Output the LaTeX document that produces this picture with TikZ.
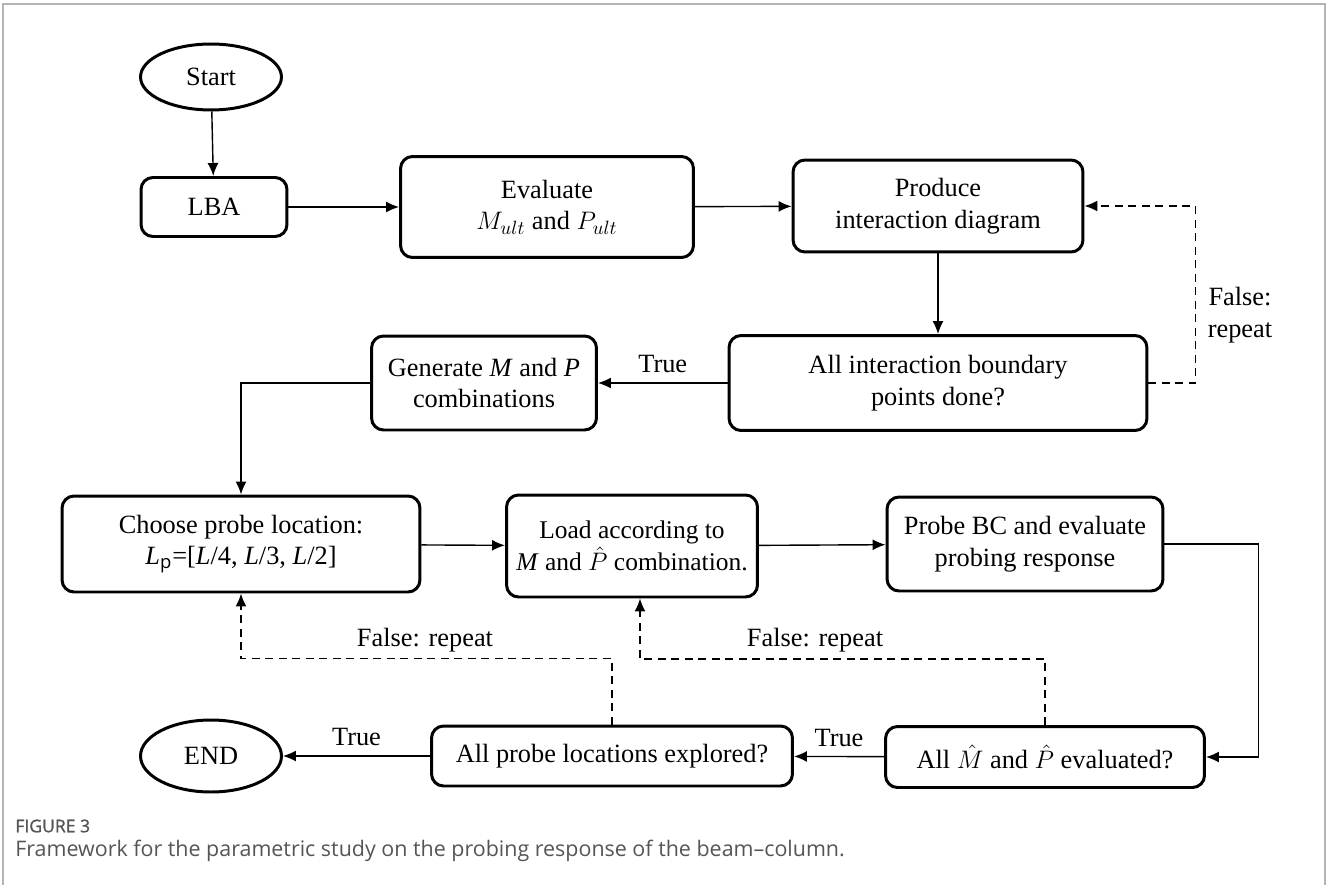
\documentclass[tikz,border=0pt]{standalone}
\usepackage{fontspec}
\setmainfont{Liberation Serif}
\newfontfamily\capfont{Open Sans}
\newfontfamily\capbold[FakeBold=1.2]{Open Sans}
\usetikzlibrary{positioning,arrows.meta,shapes.geometric}
\definecolor{capgray}{HTML}{555555}
\definecolor{framegray}{HTML}{B4B4B4}

\begin{document}
\begin{tikzpicture}[
    x=0.02cm, y=-0.02cm,
    box/.style={draw, line width=1.7pt, rounded corners=2.4mm, align=center, inner sep=2pt, font=\fontsize{15}{18}\selectfont},
    term/.style={draw, ellipse, line width=1.7pt, inner sep=0pt, minimum width=2.82cm, font=\fontsize{15}{18}\selectfont},
    arr/.style={-{Latex[length=2.6mm,width=2.2mm]}, line width=0.8pt},
    back/.style={arr, dash pattern=on 1.6mm off 1.1mm},
    lbl/.style={align=center, font=\fontsize{15}{18}\selectfont}
]
    \useasboundingbox (0,0) rectangle (1328,885);
    \draw[framegray, line width=0.6pt] (3,885) -- (3,4) -- (1325,4) -- (1325,885);

    % top row
    \node[term, minimum height=1.32cm] (start) at (211,77) {Start};
    \node[box, minimum width=2.92cm, minimum height=1.18cm] (lba) at (214,207) {LBA};
    \node[box, minimum width=5.86cm, minimum height=2.02cm] (eval) at (547,207) {Evaluate\\$M_{ult}$ and $P_{ult}$};
    \node[box, minimum width=5.8cm, minimum height=1.84cm] (prod) at (938,206) {Produce\\interaction diagram};

    % second row
    \node[box, minimum width=8.36cm, minimum height=1.9cm] (bound) at (938,383) {All interaction boundary\\points done?};
    \node[box, minimum width=4.5cm, minimum height=1.88cm] (gen) at (484,383) {Generate \textit{M} and \textit{P}\\combinations};

    % third row
    \node[box, minimum width=7.16cm, minimum height=1.92cm] (choose) at (241,544) {Choose probe location:\\\textit{L}\textsubscript{\capfont p}=[\textit{L}/4, \textit{L}/3, \textit{L}/2]};
    \node[box, minimum width=5.02cm, minimum height=2.04cm, font=\fontsize{14.5}{18}\selectfont] (load) at (632,546) {Load according to\\\textit{M} and $\hat{P}$ combination.};
    \node[box, minimum width=5.52cm, minimum height=1.88cm] (probe) at (1025,544) {Probe BC and evaluate\\probing response};

    % bottom row
    \node[box, minimum width=6.38cm, minimum height=1.22cm] (allmp) at (1045,757) {All $\hat{M}$ and $\hat{P}$ evaluated?};
    \node[box, minimum width=7.22cm, minimum height=1.2cm] (allprobe) at (612,756) {All probe locations explored?};
    \node[term, minimum height=1.44cm] (endn) at (211,756) {END};

    \draw[arr] (start) -- (lba);
    \draw[arr] (lba) -- (eval);
    \draw[arr] (eval) -- (prod);
    \draw[arr] (prod) -- (bound);
    \draw[back] (bound.east) -- ++(47,0) |- (prod.east);
    \node[lbl] (falsea) at (1240,315) {False:\\repeat};
    \draw[arr] (bound) -- node[lbl, above=2pt] (truea) {True} (gen);
    \draw[arr] (gen.west) -| (choose.north);
    \draw[arr] (choose) -- (load);
    \draw[arr] (load) -- (probe);
    \draw[arr] (probe.east) -- ++(94,0) |- (allmp.east);
    \draw[arr] (allmp) -- node[lbl, above=2pt] (trueb) {True} (allprobe);
    \draw[arr] (allprobe) -- node[lbl, above=2pt] (truec) {True} (endn);
    \draw[back] (allmp.north) -- ++(0,-66) -| ([xshift=0.16cm]load.south);
    \node[lbl] (falseb) at (815,640) {False: repeat};
    \draw[back] (allprobe.north) -- ++(0,-66) -| (choose.south);
    \node[lbl] (falsec) at (425,640) {False: repeat};

    % caption
    \node[anchor=west, inner sep=0pt, text=capgray, font=\capbold\fontsize{10}{12}\selectfont] (fignum) at (15,826) {FIGURE 3};
    \node[anchor=west, inner sep=0pt, text=capgray, font=\capfont\fontsize{12.2}{14}\selectfont] (caption) at (15,851) {Framework for the parametric study on the probing response of the beam–column.};
\end{tikzpicture}
\end{document}
